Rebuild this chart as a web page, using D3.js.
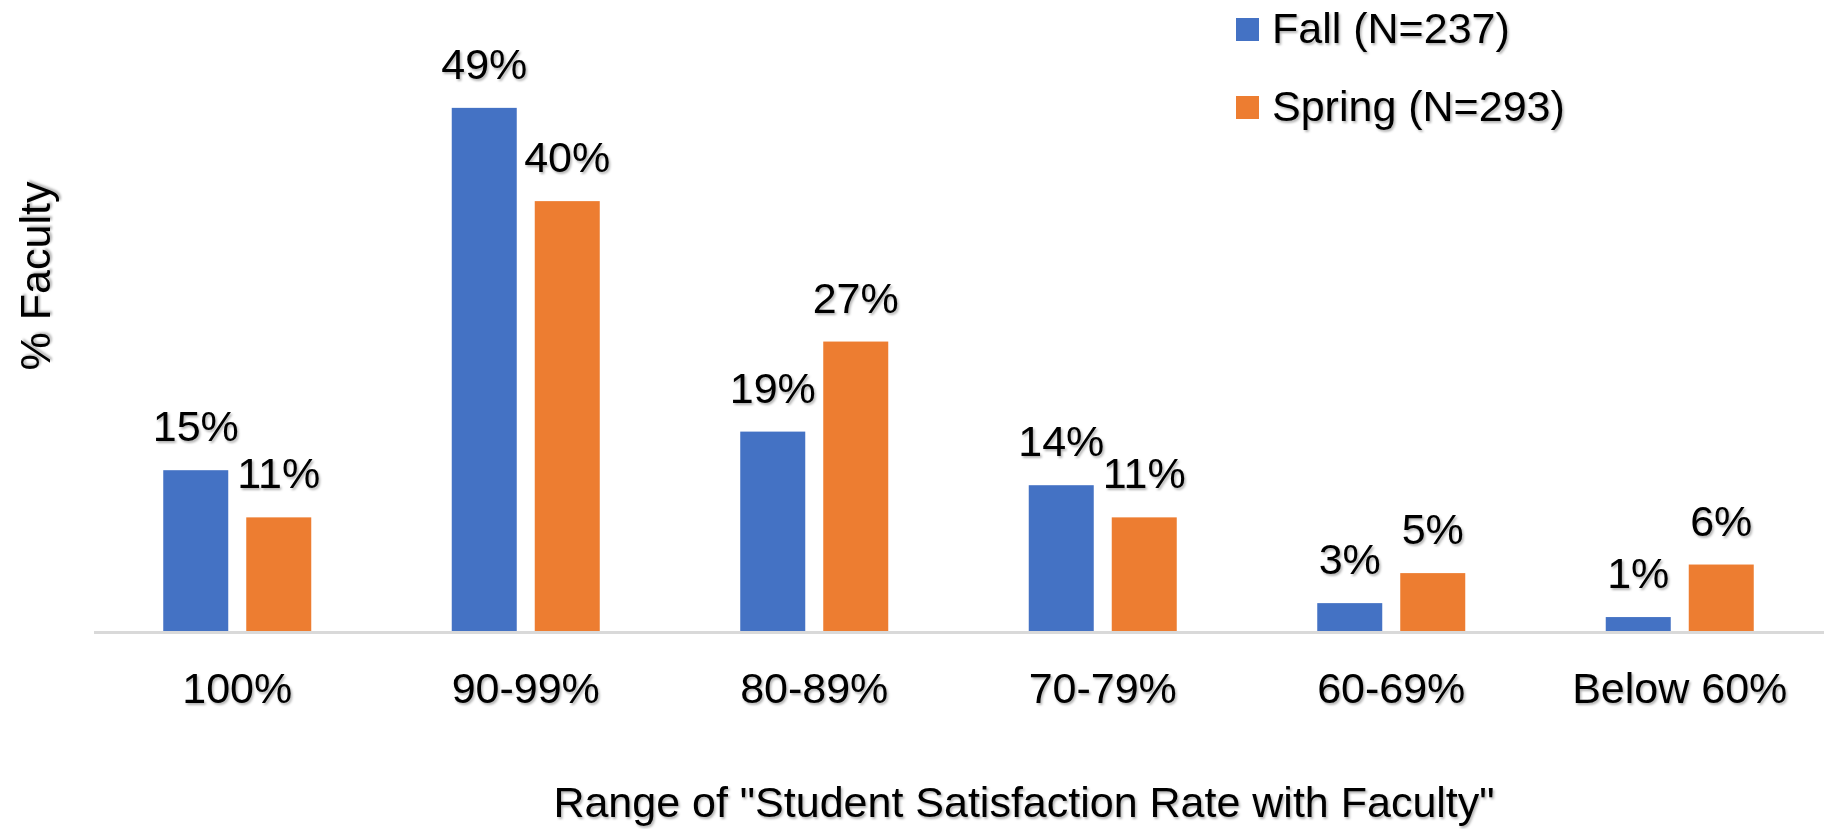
<!DOCTYPE html>
<html>
<head>
<meta charset="utf-8">
<script src="https://cdn.jsdelivr.net/npm/d3@7"></script>
<style>
  html, body { margin: 0; padding: 0; background: #fff; }
  svg { display: block; }
  text { font-family: "Liberation Sans", Arial, sans-serif; fill: #000; }
</style>
</head>
<body>
<svg id="chart" width="1824" height="829"></svg>
<script>
const categories = ["100%", "90-99%", "80-89%", "70-79%", "60-69%", "Below 60%"];
const seriesNames = ["Fall (N=237)", "Spring (N=293)"];
const fallValues = [15.0, 48.8, 18.6, 13.6, 2.6, 1.3];
const springValues = [10.6, 40.1, 27.0, 10.6, 5.4, 6.2];
const seriesColors = ["#4472C4", "#ED7D31"];
const xAxisTitle = 'Range of "Student Satisfaction Rate with Faculty"';
const yAxisTitle = "% Faculty";

const svg = d3.select("#chart");
const W = 1824, H = 829;
const baseY = 631;
const plotLeft = 93, plotRight = 1824;

const defs = svg.append("defs");
const f = defs.append("filter").attr("id", "shadow").attr("x", "-10%").attr("y", "-10%").attr("width", "130%").attr("height", "140%");
f.append("feDropShadow").attr("dx", 1.5).attr("dy", 2).attr("stdDeviation", 1.2).attr("flood-color", "#000").attr("flood-opacity", 0.3);

const x0 = d3.scaleBand().domain(categories).range([plotLeft, plotRight]).paddingInner(0.487).paddingOuter(0.2435);
const x1 = d3.scaleBand().domain(seriesNames).range([0, x0.bandwidth()]).paddingInner(18 / 83);
const y = d3.scaleLinear().domain([0, 50]).range([baseY, baseY - 50 * 10.72]);

const data = categories.map((c, i) => ({ cat: c, vals: [
  { s: seriesNames[0], v: fallValues[i], color: seriesColors[0] },
  { s: seriesNames[1], v: springValues[i], color: seriesColors[1] }
]}));

// bars
const groups = svg.append("g").selectAll("g").data(data).join("g")
  .attr("transform", d => `translate(${x0(d.cat)},0)`);
groups.selectAll("rect").data(d => d.vals).join("rect")
  .attr("x", d => x1(d.s))
  .attr("y", d => y(d.v))
  .attr("width", x1.bandwidth())
  .attr("height", d => y(0) - y(d.v))
  .attr("fill", d => d.color);

// axis line
const xAxis = d3.axisBottom(x0).tickSize(0).tickPadding(0);
const axisG = svg.append("g").attr("transform", `translate(0,${baseY + 1.5})`).call(xAxis);
axisG.select(".domain").attr("stroke", "#d9d9d9").attr("stroke-width", 3)
  .attr("d", `M${plotLeft + 1},0H${plotRight}`);
axisG.selectAll(".tick text")
  .attr("y", 70).attr("dy", 0)
  .attr("font-size", 43)
  .attr("fill", "#000")
  .style("font-family", '"Liberation Sans", Arial, sans-serif')
  .attr("filter", "url(#shadow)");

// data labels
groups.selectAll("text.lbl").data(d => d.vals).join("text")
  .attr("class", "lbl")
  .attr("x", d => x1(d.s) + x1.bandwidth() / 2)
  .attr("y", d => y(d.v) - 29)
  .attr("text-anchor", "middle")
  .attr("font-size", 43)
  .attr("filter", "url(#shadow)")
  .text(d => Math.round(d.v) + "%");

// legend
const legend = svg.append("g");
seriesNames.forEach((s, i) => {
  const ly = 18 + i * 78;
  legend.append("rect").attr("x", 1236).attr("y", ly).attr("width", 23).attr("height", 23).attr("fill", seriesColors[i]);
  legend.append("text").attr("x", 1272).attr("y", ly + 25).attr("font-size", 43)
    .attr("filter", "url(#shadow)").text(s);
});

// axis titles
svg.append("text").attr("x", 1024).attr("y", 817).attr("text-anchor", "middle")
  .attr("font-size", 43).attr("filter", "url(#shadow)").text(xAxisTitle);
svg.append("text").attr("transform", "translate(50,276) rotate(-90)").attr("text-anchor", "middle")
  .attr("font-size", 43).attr("filter", "url(#shadow)").text(yAxisTitle);
</script>
</body>
</html>
